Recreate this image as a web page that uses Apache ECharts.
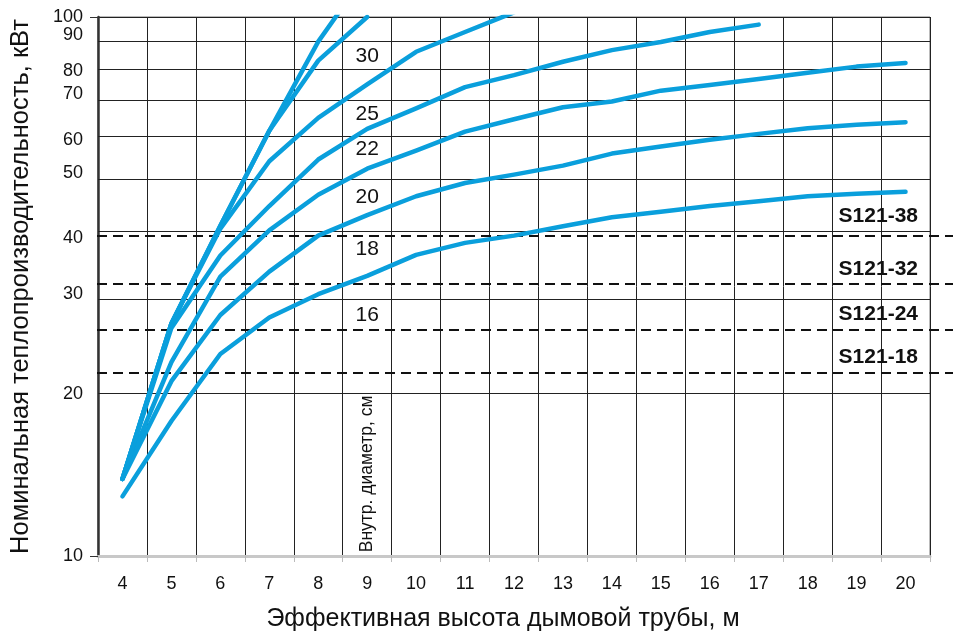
<!DOCTYPE html>
<html>
<head>
<meta charset="utf-8">
<script src="https://cdn.jsdelivr.net/npm/echarts@6/dist/echarts.min.js"></script>
<style>
html,body{margin:0;padding:0;background:#fff;}
#chart{width:953px;height:637px;}
</style>
</head>
<body>
<div id="chart"></div>
<script>
// Effective chimney height, m
const heights = ['4','5','6','7','8','9','10','11','12','13','14','15','16','17','18','19','20'];
// Nominal heat output, kW, per inner diameter (cm)
const d16 = [12.9, 17.8, 23.7, 27.7, 30.6, 33.1, 36.2, 38.1, 39.3, 40.9, 42.5, 43.5, 44.6, 45.5, 46.5, 47.0, 47.4];
const d18 = [13.9, 21.1, 28.0, 33.7, 39.3, 42.9, 46.5, 49.2, 51.0, 53.0, 55.8, 57.5, 59.2, 60.7, 62.2, 63.1, 63.8];
const d20 = [13.9, 22.9, 33.0, 40.2, 46.8, 52.3, 56.5, 61.3, 64.6, 68.0, 69.7, 73.0, 74.8, 76.7, 78.8, 80.9, 82.2];
const d22 = [13.9, 26.5, 36.1, 44.6, 54.4, 62.0, 67.7, 74.1, 78.0, 82.6, 86.8, 89.9, 93.8, 96.8];
const d25 = [13.9, 27.0, 40.5, 54.0, 65.0, 75.0, 86.2, 93.8, 102.0];
const d30 = [13.9, 27.0, 41.0, 61.5, 83.0, 100.0];
const dTop = [13.9, 27.0, 41.0, 61.5, 90.0, 121.0];
const diameterNames = ['16', '18', '20', '22', '25', '30'];
// Boiler reference levels
const boilerNames = ['S121-38', 'S121-32', 'S121-24', 'S121-18'];
const boilerLevels = [39.3, 32.0, 26.4, 21.9];
// Y tick labels
const yTicksMinor = [20, 30, 40, 50, 60, 70, 80, 90];

const FONT = '"Liberation Sans", Arial, sans-serif';
const BLUE = '#0a9fdc';

// Where the curve labels sit (x category, y value)
const labelAnchorX = '9';
const labelAnchorY = [28.0, 37.1, 46.4, 56.9, 66.1, 84.6];
// small vertical nudges of the y labels (as in the original), px
const yLabelNudge = {90: -7, 80: 2, 70: -6, 60: 3, 50: -6, 40: 7, 30: -5};
const boilerLabelGap = [9, 5, 5, 5];

const chart = echarts.init(document.getElementById('chart'), null, {renderer: 'canvas'});

function curve(data) {
  return {
    type: 'line', xAxisIndex: 0, yAxisIndex: 0, data: data,
    symbol: 'none', smooth: false, clip: true, z: 5,
    lineStyle: {color: BLUE, width: 4.5, cap: 'round', join: 'round'},
    silent: true, animation: false
  };
}

function nudgedLabel(v) {
  const n = yLabelNudge[v] || 0;
  if (n < 0) return {formatter: String(v) + '\n', lineHeight: -2 * n};
  if (n > 0) return {formatter: '\n' + String(v), lineHeight: 2 * n};
  return {formatter: String(v)};
}

const seriesData = [d16, d18, d20, d22, d25, d30, dTop];

const option = {
  backgroundColor: '#fff',
  animation: false,
  textStyle: {fontFamily: FONT},
  grid: [
    {left: 97, right: 23, top: 17, bottom: 80, show: true, borderColor: '#777', borderWidth: 1},
    {left: 97, right: 0, top: 17, bottom: 80, show: false}
  ],
  xAxis: [
    {
      type: 'category', gridIndex: 0, data: heights, boundaryGap: true,
      axisLine: {show: true, lineStyle: {color: '#c8c8c8', width: 3}},
      axisTick: {show: true, interval: 0, length: 6, lineStyle: {color: '#bbb', width: 1}},
      axisLabel: {interval: 0, fontSize: 18, color: '#111', margin: 19, fontFamily: FONT},
      splitLine: {show: true, interval: 0, lineStyle: {color: '#222', width: 1}},
      name: 'Эффективная высота дымовой трубы, м', nameLocation: 'middle', nameGap: 51,
      nameTextStyle: {fontSize: 25, color: '#111', fontFamily: FONT, padding: [0, 22, 0, 0]}
    },
    {type: 'value', gridIndex: 1, min: 0, max: 1, show: false}
  ],
  yAxis: [
    {
      type: 'log', gridIndex: 0, logBase: 10, min: 10, max: 100,
      axisLine: {show: true, lineStyle: {color: '#333', width: 2.5}},
      axisTick: {show: true, length: 8, lineStyle: {color: '#333', width: 1}},
      axisLabel: {fontSize: 18, color: '#111', margin: 15, fontFamily: FONT},
      splitLine: {show: true, lineStyle: {color: '#222', width: 1}},
      minorTick: {show: false}, minorSplitLine: {show: false},
      name: 'Номинальная теплопроизводительность, кВт', nameLocation: 'middle', nameGap: 64,
      nameRotate: 90,
      nameTextStyle: {fontSize: 25.5, color: '#111', fontFamily: FONT}
    },
    {type: 'log', gridIndex: 1, logBase: 10, min: 10, max: 100, show: false}
  ],
  series: [
    // intermediate horizontal grid lines with their labels
    {
      type: 'line', xAxisIndex: 0, yAxisIndex: 0, data: [], z: 1, silent: true,
      markLine: {
        silent: true, animation: false, symbol: ['none', 'none'],
        lineStyle: {color: '#222', width: 1, type: 'solid'},
        label: {show: true, position: 'start', distance: 15, fontSize: 18, color: '#111', fontFamily: FONT},
        emphasis: {disabled: true},
        data: yTicksMinor.map(function (v) {
          return {yAxis: v, label: nudgedLabel(v)};
        })
      }
    },
    // dashed boiler lines (run past the right frame)
    {
      type: 'line', xAxisIndex: 1, yAxisIndex: 1, data: [], z: 2, silent: true,
      markLine: {
        silent: true, animation: false, symbol: ['none', 'none'],
        lineStyle: {color: '#111', width: 2, type: [10, 6]},
        label: {show: true, position: 'insideEndTop', fontSize: 21, fontWeight: 'bold',
                color: '#111', fontFamily: FONT,
                formatter: function (p) { return p.name; }},
        emphasis: {disabled: true},
        data: boilerLevels.map(function (v, i) {
          return {yAxis: v, name: boilerNames[i], label: {distance: [35, boilerLabelGap[i]]}};
        })
      }
    }
  ].concat(seriesData.map(curve)).concat([
    // diameter labels and the axis note
    {
      type: 'line', xAxisIndex: 0, yAxisIndex: 0, data: [], z: 6, silent: true,
      markPoint: {
        silent: true, animation: false, symbol: 'circle', symbolSize: 0,
        itemStyle: {color: 'rgba(0,0,0,0)'},
        label: {show: true, position: 'inside', fontSize: 21, color: '#111', fontFamily: FONT},
        emphasis: {disabled: true},
        data: diameterNames.map(function (n, i) {
          return {coord: [labelAnchorX, labelAnchorY[i]], value: n, label: {formatter: n}};
        }).concat([
          {coord: [labelAnchorX, 14.2], value: 0,
           label: {formatter: 'Внутр. диаметр, см', rotate: 90, fontSize: 17.5}}
        ])
      }
    }
  ])
};

chart.setOption(option);
</script>
</body>
</html>
